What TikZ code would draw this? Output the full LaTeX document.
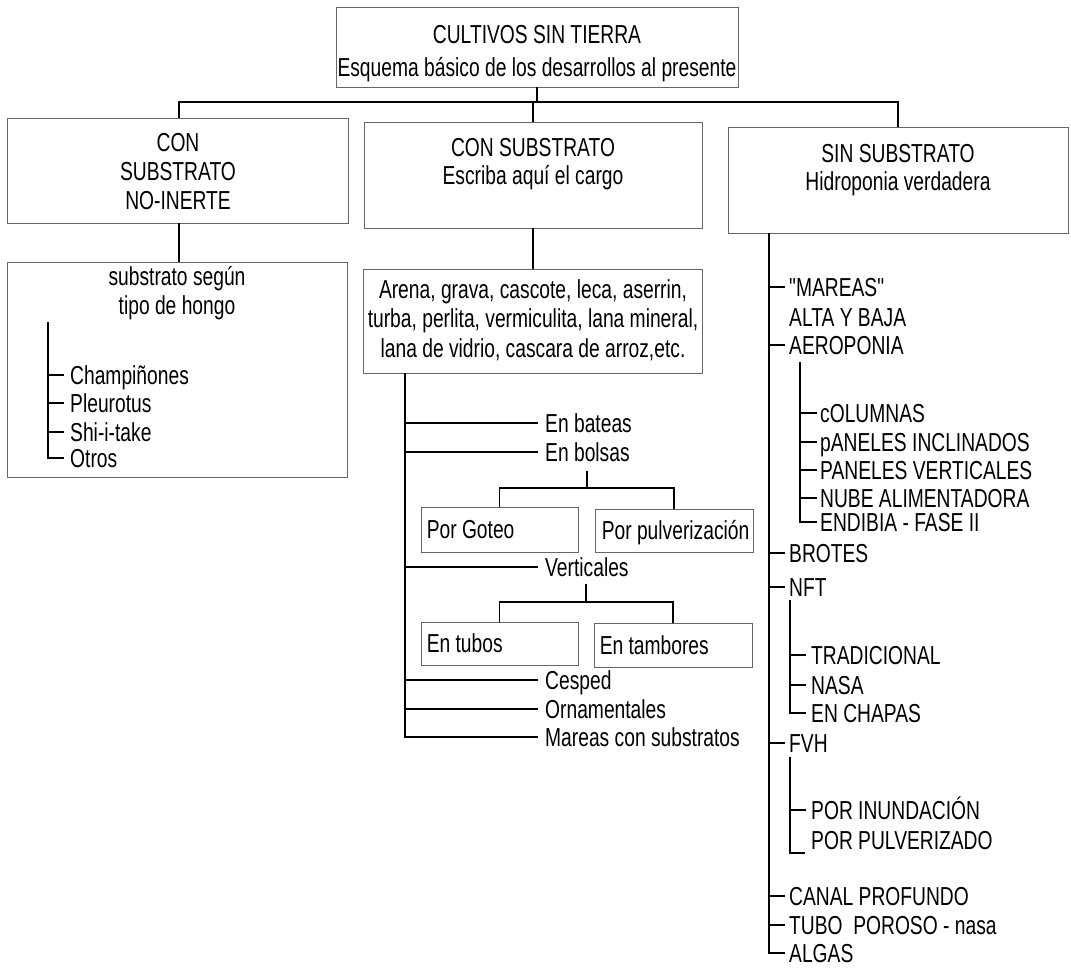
\documentclass[tikz,border=0pt]{standalone}
\usepackage{fontspec}
\setmainfont{Liberation Sans}[FakeStretch=0.74]
\newfontfamily\plainf{Liberation Sans}[FakeStretch=0.74]
\begin{document}
\begin{tikzpicture}[x=1pt,y=-1pt,
  every node/.style={font=\fontsize{26pt}{29pt}\selectfont, inner sep=0pt},
  conn/.style={line width=1.3pt, black},
  boxst/.style={draw=black!60, line width=0.9pt, rectangle, inner sep=0pt},
  ctext/.style={anchor=base},
  ltext/.style={anchor=west, text height=18.6pt, text depth=0pt}
]
\fill[white] (0,0) rectangle (1071,969);
\path[use as bounding box] (0,0) rectangle (1071,969);

% ---------- boxes ----------
\node[boxst, minimum width=402pt, minimum height=80pt] (top) at (537,47) {};
\node[boxst, minimum width=341pt, minimum height=105pt] (lbox) at (177.5,170.5) {};
\node[boxst, minimum width=338pt, minimum height=106pt] (mbox) at (533,175) {};
\node[boxst, minimum width=340pt, minimum height=106pt] (rbox) at (898,180) {};
\node[boxst, minimum width=340pt, minimum height=215pt] (lsub) at (177,369.5) {};
\node[boxst, minimum width=339pt, minimum height=104pt] (arena) at (532.5,321) {};
\node[boxst, minimum width=157pt, minimum height=45pt] (pg) at (499.5,529.5) {};
\node[boxst, minimum width=158pt, minimum height=43pt] (pp) at (674,530.5) {};
\node[boxst, minimum width=157pt, minimum height=43pt] (et) at (499.5,643.5) {};
\node[boxst, minimum width=158pt, minimum height=44pt] (eta) at (673,645) {};

% ---------- box texts ----------
\node[ctext] (t1) at (537,43) {CULTIVOS SIN TIERRA};
\node[ctext] (t2) at (537,76) {Esquema básico de los desarrollos al presente};
\node[ctext] (l1) at (178,151) {CON};
\node[ctext] (l2) at (178,180) {SUBSTRATO};
\node[ctext] (l3) at (178,209) {NO-INERTE};
\node[ctext] (m1) at (533,156) {CON SUBSTRATO};
\node[ctext] (m2) at (533,184) {Escriba aquí el cargo};
\node[ctext] (r1) at (898,162) {SIN SUBSTRATO};
\node[ctext] (r2) at (898,190) {Hidroponia verdadera};
\node[ctext] (s1) at (177,285) {substrato según};
\node[ctext] (s2) at (177,314) {tipo de hongo};
\node[ctext] (a1) at (533,298) {Arena, grava, cascote, leca, aserrin,};
\node[ctext] (a2) at (533,327) {turba, perlita, vermiculita, lana mineral,};
\node[ctext] (a3) at (533,357) {lana de vidrio, cascara de arroz,etc.};
\node[ltext] (pgt) at ([xshift=6pt]pg.west) {Por Goteo};
\node[ltext] (ppt) at ([xshift=7pt]pp.west) {Por pulverización};
\node[ltext] (ett) at ([xshift=6pt]et.west) {En tubos};
\node[ltext] (etat) at ([xshift=6pt]eta.west) {En tambores};

% ---------- top connectors ----------
\coordinate (hl) at (179,102);
\coordinate (hr) at (898,102);
\draw[conn] (top.south) -- (top.south |- hl);
\draw[conn] (lbox.north -| hl) |- (hr) -- (rbox.north);
\draw[conn] (mbox.north) -- (mbox.north |- hl);
\draw[conn] (lbox.south -| hl) -- (lsub.north -| hl);
\draw[conn] (mbox.south) -- (arena.north -| mbox.south);

% ---------- left list ----------
\node[ltext] (champ) at (70,375) {Champiñones};
\node[ltext] (pleu) at (70,403) {Pleurotus};
\node[ltext] (shi) at (70,432) {Shi-i-take};
\node[ltext] (otros) at (70,458) {Otros};
\coordinate (lv0) at (48,322);
\draw[conn] (lv0) |- ([xshift=-6pt]otros.west);
\foreach \n in {champ,pleu,shi} \draw[conn] (lv0 |- \n.west) -- ([xshift=-6pt]\n.west);

% ---------- middle list ----------
\node[ltext] (bateas) at (545,423) {En bateas};
\node[ltext] (bolsas) at (545,452) {En bolsas};
\node[ltext] (verti) at (545,567) {Verticales};
\node[ltext] (cesped) at (545,680) {Cesped};
\node[ltext] (orna) at (545,709) {Ornamentales};
\node[ltext] (mareasc) at (545,737) {Mareas con substratos};
\coordinate (mv0) at (405,373);
\draw[conn] (mv0) |- ([xshift=-7pt]mareasc.west);
\foreach \n in {bateas,bolsas,verti,cesped,orna} \draw[conn] (mv0 |- \n.west) -- ([xshift=-7pt]\n.west);
\coordinate (bj) at (587,488);
\draw[conn] (bj |- bolsas.south) ++(0,9) -- (bj);
\draw[conn] (pg.north) |- (bj) -| (pp.north);
\coordinate (vj) at (586,602);
\draw[conn] (vj |- verti.south) ++(0,7) -- (vj);
\draw[conn] (et.north) |- (vj) -| (eta.north);

% ---------- right list ----------
\node[ltext] (mareas) at (789,287) {\plainf "MAREAS"};
\node[ltext] (alta) at (789,317) {ALTA Y BAJA};
\node[ltext] (aero) at (789,345) {AEROPONIA};
\node[ltext] (brotes) at (789,553) {BROTES};
\node[ltext] (nft) at (789,587) {NFT};
\node[ltext] (fvh) at (789,743) {FVH};
\node[ltext] (canal) at (789,896) {CANAL PROFUNDO};
\node[ltext] (tubo) at (789,925) {TUBO\ \ POROSO - nasa};
\node[ltext] (algas) at (789,953) {ALGAS};
\coordinate (rv0) at (769,233);
\draw[conn] (rv0) |- ([xshift=-4pt]algas.west);
\foreach \n in {mareas,aero,brotes,nft,fvh,canal,tubo} \draw[conn] (rv0 |- \n.west) -- ([xshift=-4pt]\n.west);

\node[ltext] (col) at (820,413) {cOLUMNAS};
\node[ltext] (pinc) at (820,442) {pANELES INCLINADOS};
\node[ltext] (pver) at (820,470) {PANELES VERTICALES};
\node[ltext] (nube) at (820,498) {NUBE ALIMENTADORA};
\node[ltext] (endi) at (820,522) {ENDIBIA - FASE II};
\coordinate (av0) at (800,362);
\draw[conn] (av0) |- ([xshift=-3pt]endi.west);
\foreach \n in {col,pinc,pver,nube} \draw[conn] (av0 |- \n.west) -- ([xshift=-3pt]\n.west);

\node[ltext] (trad) at (811,655) {TRADICIONAL};
\node[ltext] (nasa) at (811,685) {NASA};
\node[ltext] (chapas) at (811,713) {EN CHAPAS};
\coordinate (nv0) at (790,600);
\draw[conn] (nv0) |- ([xshift=-5pt]chapas.west);
\foreach \n in {trad,nasa} \draw[conn] (nv0 |- \n.west) -- ([xshift=-5pt]\n.west);

\node[ltext] (inund) at (811,810) {POR INUNDACIÓN};
\node[ltext] (pulv) at (811,840) {POR PULVERIZADO};
\coordinate (fv0) at (790,757);
\coordinate (fb) at (805,853);
\draw[conn] (fv0) |- (fb);
\draw[conn] (fv0 |- inund.west) -- ([xshift=-5pt]inund.west);
\end{tikzpicture}
\end{document}
